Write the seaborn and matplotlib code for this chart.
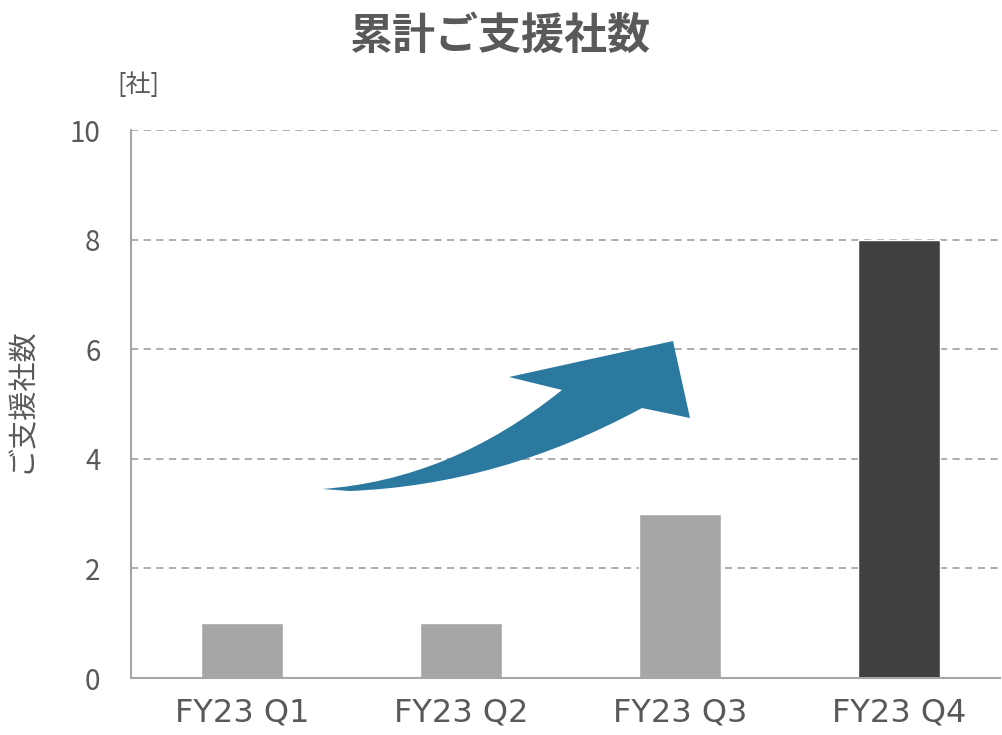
import matplotlib
matplotlib.use("Agg")
import matplotlib.pyplot as plt
import seaborn as sns
import pandas as pd
from matplotlib.path import Path
from matplotlib.patches import PathPatch

categories = ["FY23 Q1", "FY23 Q2", "FY23 Q3", "FY23 Q4"]
values = [1, 1, 3, 8]
bar_colors = ["#a6a6a6", "#a6a6a6", "#a6a6a6", "#404040"]
yticks = [0, 2, 4, 6, 8, 10]
title = "累計ご支援社数"
ylabel = "ご支援社数"
unit = "[社]"

sns.set_theme(style="white")
plt.rcParams["font.family"] = ["Noto Sans CJK JP", "DejaVu Sans"]
text_color = "#595959"

W, H = 1002, 735
fig = plt.figure(figsize=(W / 100, H / 100), dpi=100)
ax = fig.add_axes([131 / W, 1 - 678 / H, (1000 - 131) / W, (678 - 130) / H])

df = pd.DataFrame({"cat": categories, "val": values})
sns.barplot(data=df, x="cat", y="val", hue="cat", palette=bar_colors,
            width=0.374, legend=False, ax=ax, saturation=1)

ax.set_ylim(0, 10)
ax.set_xlim(-0.507, 3.461)
ax.set_yticks(yticks)
ax.set_yticklabels([str(v) for v in yticks], fontsize=20)
ax.set_xticks(range(len(categories)))
ax.set_xticklabels(categories, fontsize=23, family=["DejaVu Sans"])
for y in yticks[1:]:
    ax.axhline(y, color="#a6a6a6", linestyle=(0, (4, 3)), linewidth=1.3, zorder=0)
ax.set_axisbelow(True)

for s in ["top", "right"]:
    ax.spines[s].set_visible(False)
for s in ["left", "bottom"]:
    ax.spines[s].set_color("#a6a6a6")
    ax.spines[s].set_linewidth(1.5)

ax.tick_params(axis="both", length=0, colors=text_color)
ax.tick_params(axis="y", pad=22)
ax.tick_params(axis="x", pad=14)
ax.set_xlabel("")
ax.set_ylabel("")

fig.text(22 / W, 1 - 400 / H, ylabel, rotation=90, ha="center", va="center",
         fontsize=21, color=text_color)
fig.text(138 / W, 1 - 85 / H, unit, ha="center", va="center",
         fontsize=18, color=text_color)
fig.text(500 / W, 1 - 36 / H, title, ha="center", va="center",
         fontsize=31, fontweight="bold", color=text_color)

# decorative curved arrow (figure pixel coordinates)
pts = [
    (322, 489),            # tail tip
    (450, 480), (562, 390),  # upper edge curve to notch
    (509, 377),            # left barb
    (673, 341),            # tip
    (690, 418),            # right barb
    (642, 408),            # notch bottom
    (500, 485), (350, 491),  # lower edge curve back
    (322, 489),
]
codes = [Path.MOVETO, Path.CURVE3, Path.CURVE3, Path.LINETO, Path.LINETO,
         Path.LINETO, Path.LINETO, Path.CURVE3, Path.CURVE3, Path.CLOSEPOLY]
pts_fig = [(x / W, 1 - y / H) for x, y in pts]
arrow = PathPatch(Path(pts_fig, codes), transform=fig.transFigure,
                  facecolor="#2c79a0", edgecolor="none", zorder=5)
fig.patches.append(arrow)

fig.savefig("out.png", dpi=100)
